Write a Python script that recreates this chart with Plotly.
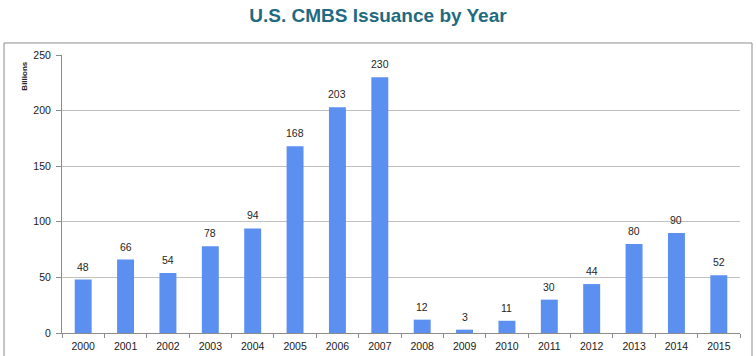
import plotly.graph_objects as go

years = ["2000", "2001", "2002", "2003", "2004", "2005", "2006", "2007",
         "2008", "2009", "2010", "2011", "2012", "2013", "2014", "2015"]
issuance = [48, 66, 54, 78, 94, 168, 203, 230, 12, 3, 11, 30, 44, 80, 90, 52]

fig = go.Figure()
fig.add_trace(go.Bar(
    x=years, y=issuance,
    marker=dict(color="#5b8ff0", line=dict(width=0)),
    width=0.4,
))

for i, v in enumerate(issuance):
    fig.add_annotation(x=i, y=v, text=str(v), showarrow=False,
                       xanchor="center", yanchor="bottom", yshift=5,
                       font=dict(family="Arial", size=10.5, color="#262626"))

fig.update_layout(
    width=756, height=356,
    margin=dict(l=62, r=16, t=55, b=23),
    paper_bgcolor="white", plot_bgcolor="white",
    showlegend=False,
    title=dict(text="<b>U.S. CMBS Issuance by Year</b>", x=0.5, xanchor="center",
               y=1 - 15 / 356, yanchor="middle",
               font=dict(family="Arial", size=19, color="#1f6b80")),
    xaxis=dict(type="category", range=[-0.5, 15.5], showgrid=False, showline=True,
               linecolor="#8c8c8c", automargin=False,
               ticks="outside", tickson="boundaries", ticklen=4, tickcolor="#8c8c8c",
               ticklabelstandoff=3,
               tickfont=dict(family="Arial", size=10.5, color="#1a1a1a")),
    yaxis=dict(range=[0, 250], dtick=50, showgrid=True, gridcolor="#c0c0c0",
               showline=True, linecolor="#8c8c8c", ticks="outside", ticklen=5,
               tickcolor="#8c8c8c", zeroline=False, ticklabelstandoff=3,
               automargin=False,
               tickfont=dict(family="Arial", size=10.5, color="#1a1a1a")),
    bargap=0.6,
)

fig.add_annotation(text="<b>Billions</b>", xref="paper", yref="paper",
                   x=-0.0546, y=0.985, xanchor="center", yanchor="top",
                   textangle=-90, showarrow=False,
                   font=dict(family="Arial", size=8, color="#222222"))

fig.add_shape(type="rect", xref="paper", yref="paper",
              x0=-0.0855, x1=1.0177, y0=-0.2, y1=1.0432,
              line=dict(color="#8c8c8c", width=1), fillcolor="rgba(0,0,0,0)",
              layer="below")

fig.write_html("out.html", config={"displayModeBar": False},
               post_script="document.body.style.margin='0';document.body.style.overflow='hidden';")
